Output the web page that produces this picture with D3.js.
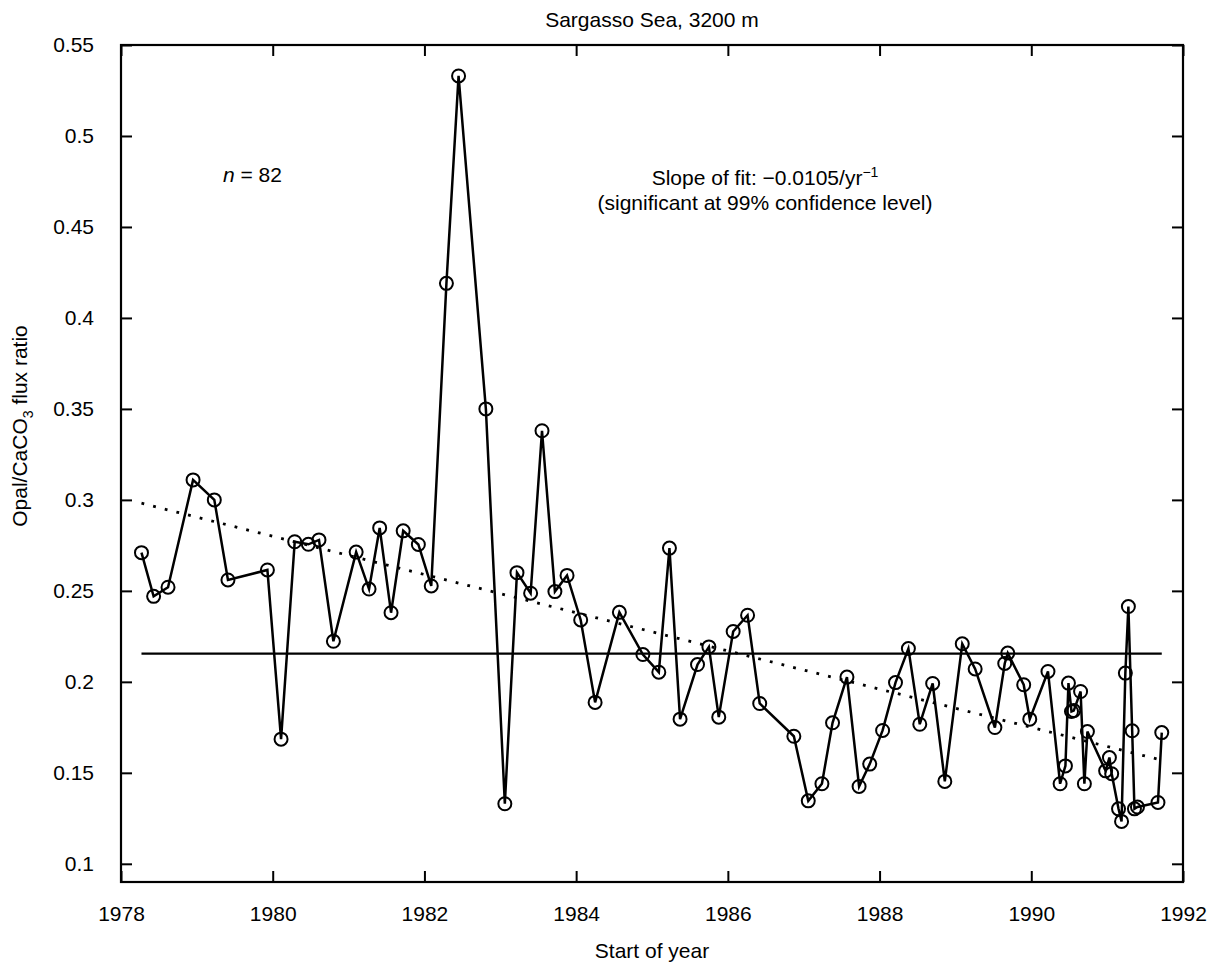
<!DOCTYPE html>
<html>
<head>
<meta charset="utf-8">
<script src="https://cdn.jsdelivr.net/npm/d3@7"></script>
<style>
  body { margin: 0; background: #fff; }
  text { font-family: "Liberation Sans", Arial, Helvetica, sans-serif; fill: #000; }
</style>
</head>
<body>
<div id="chart"></div>
<script>
// sample start (decimal year) and Opal/CaCO3 flux ratio
var years = [1978.27,1978.43,1978.62,1978.95,1979.23,1979.41,1979.93,1980.11,1980.29,1980.47,
  1980.61,1980.80,1981.10,1981.27,1981.41,1981.56,1981.72,1981.92,1982.09,1982.29,
  1982.45,1982.81,1983.06,1983.22,1983.40,1983.55,1983.72,1983.88,1984.06,1984.25,
  1984.57,1984.88,1985.09,1985.23,1985.37,1985.60,1985.75,1985.88,1986.07,1986.26,
  1986.42,1986.87,1987.06,1987.24,1987.38,1987.57,1987.73,1987.87,1988.04,1988.21,
  1988.38,1988.53,1988.70,1988.86,1989.09,1989.26,1989.52,1989.65,1989.69,1989.90,
  1989.98,1990.22,1990.38,1990.45,1990.49,1990.53,1990.56,1990.65,1990.70,1990.74,
  1990.98,1991.03,1991.06,1991.15,1991.19,1991.24,1991.28,1991.33,1991.36,1991.40,
  1991.67,1991.72];
var ratios = [0.271,0.247,0.252,0.311,0.300,0.256,0.2615,0.1685,0.277,0.2756,
  0.278,0.2223,0.2713,0.251,0.2846,0.238,0.283,0.2755,0.2527,0.419,
  0.533,0.350,0.133,0.260,0.2487,0.338,0.2496,0.2585,0.234,0.1887,
  0.2382,0.215,0.2053,0.2735,0.1795,0.2095,0.2192,0.1806,0.2277,0.2366,
  0.1881,0.1701,0.1346,0.144,0.1775,0.2026,0.1425,0.1548,0.1733,0.1996,
  0.2183,0.1767,0.1991,0.1453,0.2209,0.2071,0.1749,0.2101,0.2158,0.1984,
  0.1795,0.2057,0.144,0.1538,0.1993,0.1837,0.1842,0.1947,0.144,0.1727,
  0.1511,0.1584,0.1495,0.1302,0.1233,0.2048,0.2414,0.1731,0.1302,0.1312,
  0.1337,0.1721];

var meanRatio = 0.2155;      // solid horizontal line
var fitAt1978 = 0.301;       // dotted regression line
var fitSlope = -0.0105;      // per year

var xTicks = [1978,1980,1982,1984,1986,1988,1990,1992];
var yTicks = [0.1,0.15,0.2,0.25,0.3,0.35,0.4,0.45,0.5,0.55];

var width = 1218, height = 964;
var margin = {top: 45, right: 35, bottom: 82, left: 121};
var w = width - margin.left - margin.right;
var h = height - margin.top - margin.bottom;

var svg = d3.select("#chart").append("svg")
    .attr("width", width)
    .attr("height", height);

var g = svg.append("g")
    .attr("transform", "translate(" + margin.left + "," + margin.top + ")");

var x = d3.scaleLinear().domain([1978, 1992]).range([0, w]);
var y = d3.scaleLinear().domain([0.09, 0.55]).range([h, 0]);

var data = years.map(function (d, i) { return {year: d, value: ratios[i]}; });

// axes, ticks pointing inward on all four sides
function styleAxis(sel) {
    sel.select(".domain").remove();
    sel.selectAll(".tick line").attr("stroke", "#000").attr("stroke-width", 2);
    sel.selectAll(".tick text").style("font-size", "21px")
        .style("font-family", "'Liberation Sans', Arial, sans-serif");
}

g.append("g")
    .attr("transform", "translate(0," + h + ")")
    .call(d3.axisBottom(x).tickValues(xTicks).tickFormat(d3.format("d"))
        .tickSizeInner(-11).tickSizeOuter(0).tickPadding(24))
    .call(styleAxis);

g.append("g")
    .call(d3.axisTop(x).tickValues(xTicks).tickFormat("")
        .tickSizeInner(-11).tickSizeOuter(0))
    .call(styleAxis);

g.append("g")
    .call(d3.axisLeft(y).tickValues(yTicks).tickFormat(function (d) { return +d.toFixed(2); })
        .tickSizeInner(-11).tickSizeOuter(0).tickPadding(27))
    .call(styleAxis);

g.append("g")
    .attr("transform", "translate(" + w + ",0)")
    .call(d3.axisRight(y).tickValues(yTicks).tickFormat("")
        .tickSizeInner(-11).tickSizeOuter(0))
    .call(styleAxis);

g.append("rect")
    .attr("width", w)
    .attr("height", h)
    .attr("fill", "none")
    .attr("stroke", "#000")
    .attr("stroke-width", 2.2);

var x0 = years[0], x1 = years[years.length - 1];

// mean line
g.append("line")
    .attr("x1", x(x0)).attr("x2", x(x1))
    .attr("y1", y(meanRatio)).attr("y2", y(meanRatio))
    .attr("stroke", "#000")
    .attr("stroke-width", 2.2);

// fitted trend
g.append("line")
    .attr("x1", x(x0)).attr("x2", x(x1))
    .attr("y1", y(fitAt1978 + fitSlope * (x0 - 1978)))
    .attr("y2", y(fitAt1978 + fitSlope * (x1 - 1978)))
    .attr("stroke", "#000")
    .attr("stroke-width", 2.8)
    .attr("stroke-dasharray", "2.8,9.2");

var line = d3.line()
    .x(function (d) { return x(d.year); })
    .y(function (d) { return y(d.value); });

g.append("path")
    .datum(data)
    .attr("d", line)
    .attr("fill", "none")
    .attr("stroke", "#000")
    .attr("stroke-width", 2.5)
    .attr("stroke-linejoin", "miter");

g.selectAll("circle")
    .data(data)
    .enter().append("circle")
    .attr("cx", function (d) { return x(d.year); })
    .attr("cy", function (d) { return y(d.value); })
    .attr("r", 6.5)
    .attr("fill", "none")
    .attr("stroke", "#000")
    .attr("stroke-width", 2);

// labels
svg.append("text")
    .attr("x", margin.left + w / 2)
    .attr("y", 27)
    .attr("text-anchor", "middle")
    .style("font-size", "21px")
    .text("Sargasso Sea, 3200 m");

svg.append("text")
    .attr("x", margin.left + w / 2)
    .attr("y", 958)
    .attr("text-anchor", "middle")
    .style("font-size", "21px")
    .text("Start of year");

var yl = svg.append("text")
    .attr("transform", "translate(27,426) rotate(-90)")
    .attr("text-anchor", "middle")
    .style("font-size", "21px");
yl.append("tspan").text("Opal/CaCO");
yl.append("tspan").attr("dy", 6).style("font-size", "14px").text("3");
yl.append("tspan").attr("dy", -6).text(" flux ratio");

var nl = svg.append("text")
    .attr("x", 223)
    .attr("y", 182)
    .style("font-size", "21px");
nl.append("tspan").style("font-style", "italic").text("n");
nl.append("tspan").text(" = 82");

var s1 = svg.append("text")
    .attr("x", 765)
    .attr("y", 185)
    .attr("text-anchor", "middle")
    .style("font-size", "21px");
s1.append("tspan").text("Slope of fit: \u22120.0105/yr");
s1.append("tspan").attr("dy", -8).style("font-size", "14px").text("\u22121");

svg.append("text")
    .attr("x", 765)
    .attr("y", 210)
    .attr("text-anchor", "middle")
    .style("font-size", "21px")
    .text("(significant at 99% confidence level)");
</script>
</body>
</html>
